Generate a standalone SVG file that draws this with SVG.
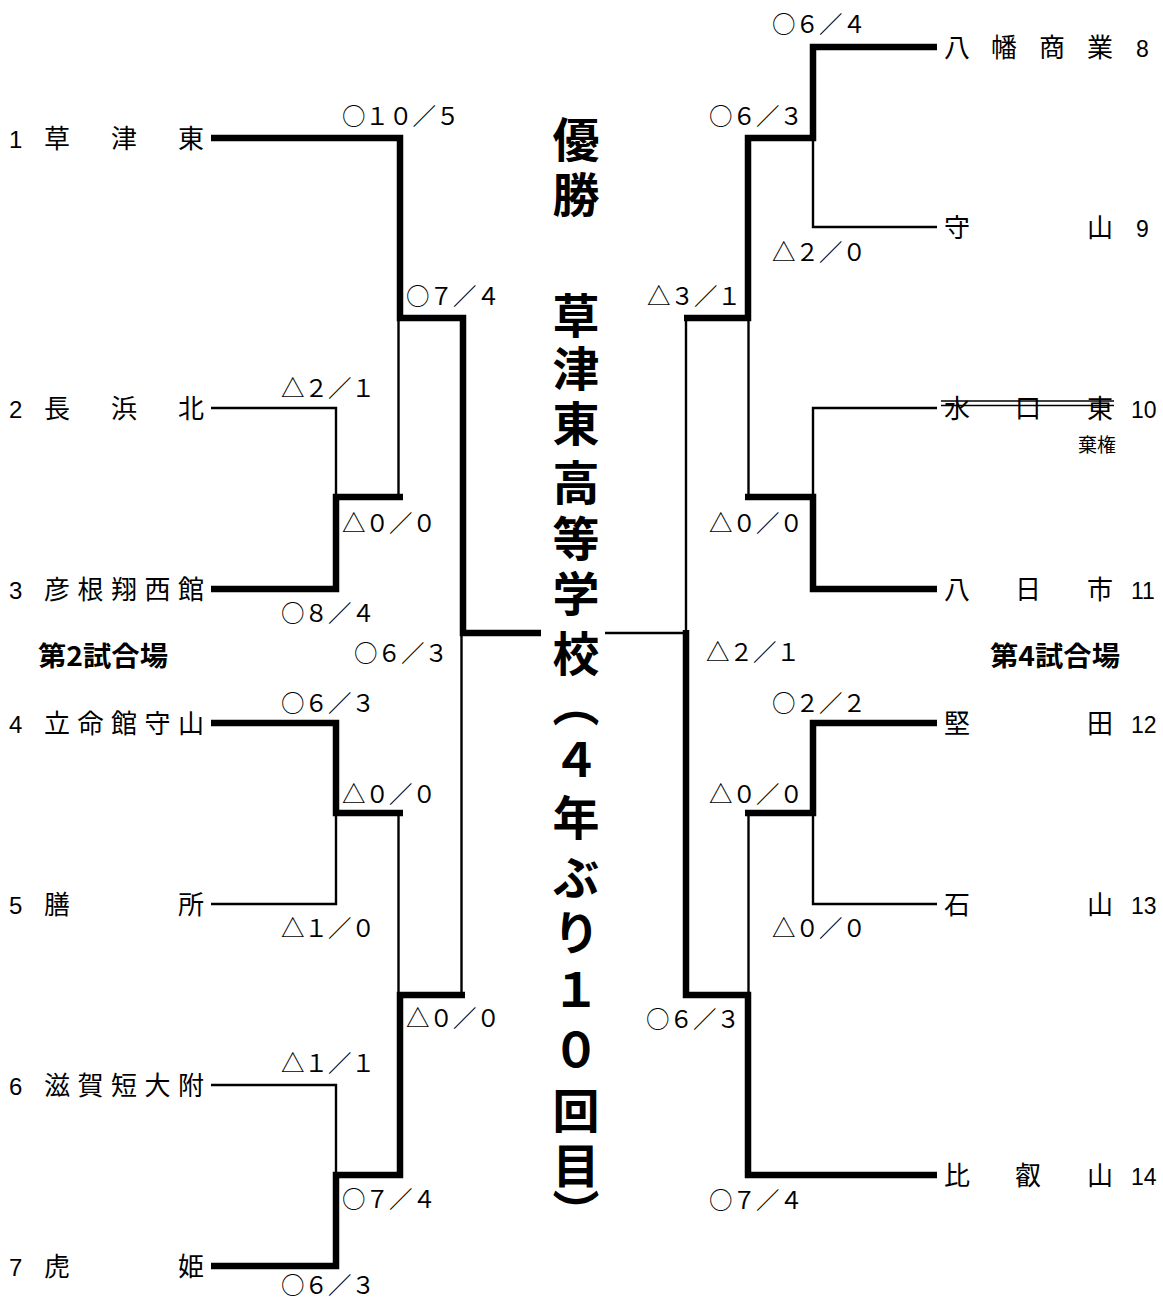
<svg xmlns="http://www.w3.org/2000/svg" width="1163" height="1301" viewBox="0 0 1163 1301">
<style>
.thick{fill:none;stroke:#000;stroke-width:6.5;stroke-linejoin:miter;stroke-linecap:butt}
.thin{fill:none;stroke:#000;stroke-width:2.4;stroke-linecap:butt}
.name{font-family:"Noto Sans CJK JP",sans-serif;font-size:26px;fill:#000}
.num{font-family:"Liberation Sans",Arial,sans-serif;font-size:24px;fill:#000}
.rnum{font-family:"Liberation Sans",Arial,sans-serif;font-size:23px;fill:#000}
.score{font-family:"Noto Sans CJK JP",sans-serif;font-size:23.5px;fill:#000}
.venue{font-family:"Noto Sans CJK JP",sans-serif;font-size:27px;font-weight:700;fill:#000}
.title{font-family:"Noto Sans CJK JP",sans-serif;font-size:47px;font-weight:700;fill:#000;writing-mode:vertical-rl;dominant-baseline:central}
.small{font-family:"Noto Sans CJK JP",sans-serif;font-size:19px;fill:#000}
</style>
<rect width="1163" height="1301" fill="#fff"/>
<g id="connectors">
  <path class="thin" d="M211 408 H336 V497"/>
  <path class="thin" d="M398.5 318 V497"/>
  <path class="thin" d="M211 904 H336 V813"/>
  <path class="thin" d="M398.5 813 V995"/>
  <path class="thin" d="M211 1085 H336 V1175"/>
  <path class="thin" d="M461.5 633 V995"/>
  <path class="thick" d="M211 138 H400 V318 H463 V633 H541"/>
  <path class="thick" d="M211 589 H336 V497 H403"/>
  <path class="thick" d="M211 723 H336 V813 H403"/>
  <path class="thick" d="M211 1266 H336 V1175 H400 V995 H465"/>
  <path class="thin" d="M937 227 H813 V138"/>
  <path class="thin" d="M937 408 H813 V497"/>
  <path class="thin" d="M748.5 318 V497"/>
  <path class="thin" d="M686 318 V633 H605"/>
  <path class="thin" d="M937 904 H813 V813"/>
  <path class="thin" d="M748.5 813 V995"/>
  <path class="thick" d="M937 47 H813 V138 H748 V318 H684"/>
  <path class="thick" d="M937 589 H813 V497 H745"/>
  <path class="thick" d="M937 723 H813 V813 H745"/>
  <path class="thick" d="M937 1175 H748 V995 H686 V630"/>
</g>
<g id="scores">
  <text class="score" x="342" y="125">○１０／５</text>
  <text class="score" x="406" y="305">○７／４</text>
  <text class="score" x="281" y="397">△２／１</text>
  <text class="score" x="342" y="532">△０／０</text>
  <text class="score" x="281" y="622">○８／４</text>
  <text class="score" x="354" y="662">○６／３</text>
  <text class="score" x="281" y="712">○６／３</text>
  <text class="score" x="342" y="803">△０／０</text>
  <text class="score" x="281" y="937">△１／０</text>
  <text class="score" x="406" y="1027">△０／０</text>
  <text class="score" x="281" y="1072">△１／１</text>
  <text class="score" x="342" y="1208">○７／４</text>
  <text class="score" x="281" y="1294">○６／３</text>
  <text class="score" x="772" y="33">○６／４</text>
  <text class="score" x="709" y="125">○６／３</text>
  <text class="score" x="772" y="261">△２／０</text>
  <text class="score" x="647" y="305">△３／１</text>
  <text class="score" x="709" y="532">△０／０</text>
  <text class="score" x="706" y="661">△２／１</text>
  <text class="score" x="772" y="712">○２／２</text>
  <text class="score" x="709" y="803">△０／０</text>
  <text class="score" x="772" y="937">△０／０</text>
  <text class="score" x="646" y="1028">○６／３</text>
  <text class="score" x="709" y="1209">○７／４</text>
</g>
<g id="venues">
  <text class="venue" x="38" y="666" textLength="130" lengthAdjust="spacingAndGlyphs">第2試合場</text>
  <text class="venue" x="990" y="666" textLength="130" lengthAdjust="spacingAndGlyphs">第4試合場</text>
</g>
<g id="team1"><text class="num" x="9" y="148">1</text><text class="name" x="44 111 178" y="148">草津東</text></g>
<g id="team2"><text class="num" x="9" y="418">2</text><text class="name" x="44 111 178" y="418">長浜北</text></g>
<g id="team3"><text class="num" x="9" y="599">3</text><text class="name" x="44 77.5 111 144.5 178" y="599">彦根翔西館</text></g>
<g id="team4"><text class="num" x="9" y="733">4</text><text class="name" x="44 77.5 111 144.5 178" y="733">立命館守山</text></g>
<g id="team5"><text class="num" x="9" y="914">5</text><text class="name" x="44 178" y="914">膳所</text></g>
<g id="team6"><text class="num" x="9" y="1095">6</text><text class="name" x="44 77.5 111 144.5 178" y="1095">滋賀短大附</text></g>
<g id="team7"><text class="num" x="9" y="1276">7</text><text class="name" x="44 178" y="1276">虎姫</text></g>
<g id="team8"><text class="name" x="944 991 1039 1087" y="57">八幡商業</text><text class="rnum" x="1136" y="57">8</text></g>
<g id="team9"><text class="name" x="944 1087" y="237">守山</text><text class="rnum" x="1136" y="237">9</text></g>
<g id="team10">
  <text class="name" x="944 1015 1087" y="418">水口東</text>
  <line x1="941" y1="401" x2="1114" y2="401" stroke="#000" stroke-width="1.3"/>
  <line x1="941" y1="405.5" x2="1114" y2="405.5" stroke="#000" stroke-width="1.3"/>
  <text class="rnum" x="1131" y="418">10</text>
  <text class="small" x="1078" y="452">棄権</text>
</g>
<g id="team11"><text class="name" x="944 1015 1087" y="599">八日市</text><text class="rnum" x="1131" y="599">11</text></g>
<g id="team12"><text class="name" x="944 1087" y="733">堅田</text><text class="rnum" x="1131" y="733">12</text></g>
<g id="team13"><text class="name" x="944 1087" y="914">石山</text><text class="rnum" x="1131" y="914">13</text></g>
<g id="team14"><text class="name" x="944 1015 1087" y="1185">比叡山</text><text class="rnum" x="1131" y="1185">14</text></g>
<g id="title">
  <text class="title" x="576" y="115.5 170.5 291.5 344.5 399.5 458.5 514.5 569.5 629.5 679.5 736.5 793.5 853.5 908.5 966.5 1026.5 1086.5 1141.5 1188.5">優勝草津東高等学校（４年ぶり１０回目）</text>
</g>
</svg>
